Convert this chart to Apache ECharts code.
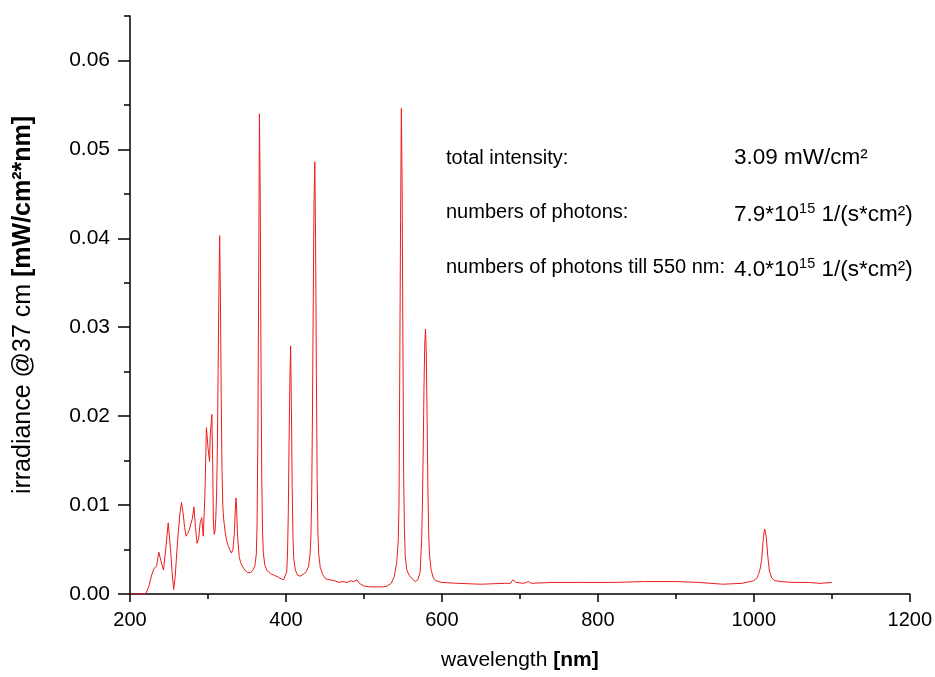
<!DOCTYPE html>
<html>
<head>
<meta charset="utf-8">
<script src="https://cdn.jsdelivr.net/npm/echarts@6/dist/echarts.min.js"></script>
<style>
html,body{margin:0;padding:0;background:#fff;}
#c{width:935px;height:677px;}
</style>
</head>
<body>
<div id="c"></div>
<script>
// wavelength [nm]
const wavelengths = [
200,210,220,224,228,231,234,237,240,243,246,249,252,254,256,258,261,264,266,268,270,272,274,276,278,280,282,284,286,288,290,292,294,296,298,300,302,303,305,306,307,308,309,310,311,312,313,314,315,316,317,318,319,320,322,324,326,328,330,332,334,335,336,337,338,340,342,345,348,351,354,357,360,362,363,364,365,366,367,368,369,370,371,373,376,380,385,390,394,397,399,401,402,403,404,405,406,407,408,409,410,412,415,418,422,426,429,431,432,433,434,435,436,437,438,439,440,441,442,444,447,451,456,462,468,473,478,483,487,491,494,500,508,516,524,530,535,539,542,544,545,546,547,548,549,550,551,552,553,555,558,562,566,569,572,574,575,576,577,578,579,580,581,582,583,584,586,589,592,600,620,650,680,688,691,693,695,705,711,715,740,780,820,860,900,930,960,985,1000,1004,1006,1008,1010,1012,1013,1014,1015,1016,1018,1020,1023,1027,1035,1050,1070,1085,1100
];
// irradiance @37 cm [mW/cm²*nm]
const irradiance = [
0,0,0,0.0008,0.0022,0.0029,0.0031,0.0047,0.0036,0.0027,0.0052,0.0080,0.0050,0.0025,0.0005,0.0020,0.0060,0.0090,0.0103,0.0092,0.0075,0.0065,0.0068,0.0072,0.0070,0.0085,0.0098,0.0075,0.0057,0.0062,0.0080,0.0086,0.0065,0.0110,0.0187,0.0165,0.0149,0.0180,0.0202,0.0150,0.0080,0.0067,0.0070,0.0085,0.0110,0.0160,0.0250,0.0340,0.0403,0.0330,0.0220,0.0140,0.0100,0.0085,0.0070,0.0060,0.0054,0.0050,0.0046,0.0050,0.0070,0.0095,0.0108,0.0090,0.0065,0.0042,0.0035,0.0030,0.0026,0.0024,0.0024,0.0026,0.0031,0.0045,0.0080,0.0180,0.0350,0.0540,0.0450,0.0260,0.0130,0.0070,0.0046,0.0032,0.0026,0.0023,0.0021,0.0019,0.0017,0.0016,0.0016,0.0025,0.0045,0.0090,0.0170,0.0240,0.0279,0.0210,0.0120,0.0065,0.0040,0.0027,0.0021,0.0020,0.0022,0.0025,0.0031,0.0045,0.0065,0.0110,0.0200,0.0330,0.0440,0.0486,0.0400,0.0250,0.0130,0.0070,0.0045,0.0030,0.0022,0.0017,0.0016,0.0015,0.0013,0.0014,0.0013,0.0015,0.0014,0.0016,0.0012,0.0009,0.0008,0.0008,0.0008,0.0009,0.0012,0.0020,0.0035,0.0060,0.0100,0.0260,0.0420,0.0546,0.0460,0.0280,0.0130,0.0070,0.0042,0.0027,0.0021,0.0017,0.0014,0.0016,0.0024,0.0060,0.0100,0.0160,0.0230,0.0280,0.0298,0.0270,0.0200,0.0120,0.0070,0.0045,0.0028,0.0018,0.0015,0.0013,0.0012,0.0011,0.0012,0.0012,0.0016,0.0018,0.0013,0.0012,0.0014,0.0012,0.0013,0.0013,0.0013,0.0014,0.0014,0.0013,0.0011,0.0012,0.0015,0.0018,0.0022,0.0028,0.0038,0.0060,0.0069,0.0073,0.0072,0.0064,0.0042,0.0026,0.0018,0.0015,0.0014,0.0013,0.0013,0.0012,0.0013
];
const xTicks = [200, 400, 600, 800, 1000, 1200];
const yMajorTicks = [0, 0.01, 0.02, 0.03, 0.04, 0.05, 0.06];
const infoLabels = ['total intensity:', 'numbers of photons:', 'numbers of photons till 550 nm:'];
const infoValues = [
  '{t|3.09 mW/cm²}',
  '{t|7.9*10}{s|15}{t| 1/(s*cm²)}',
  '{t|4.0*10}{s|15}{t| 1/(s*cm²)}'
];

const FONT = '"Liberation Sans", Arial, sans-serif';
const chart = echarts.init(document.getElementById('c'), null, {renderer: 'canvas'});

const points = wavelengths.map((w, i) => [w, irradiance[i]]);
const rowY = [157, 211, 266];
const graphics = [];
infoLabels.forEach((t, i) => {
  graphics.push({type: 'text', left: 446, top: rowY[i] - 9, style: {text: t, fill: '#000', font: '20px ' + FONT}});
});
infoValues.forEach((t, i) => {
  graphics.push({type: 'text', left: 734, top: rowY[i] - 11, style: {
    text: t,
    rich: {
      t: {fontSize: 22.5, fontFamily: FONT, fill: '#000', color: '#000', lineHeight: 26, verticalAlign: 'bottom'},
      s: {fontSize: 14.5, fontFamily: FONT, fill: '#000', color: '#000', lineHeight: 26, verticalAlign: 'top', padding: [1, 0, 0, 0]}
    }
  }});
});

chart.setOption({
  animation: false,
  backgroundColor: '#fff',
  grid: {left: 130, right: 25, top: 16, bottom: 83, containLabel: false},
  xAxis: {
    type: 'value', min: xTicks[0], max: xTicks[xTicks.length - 1], interval: 200,
    axisLine: {show: true, onZero: false, lineStyle: {color: '#000', width: 1.5}},
    axisTick: {show: true, length: 8, inside: false, lineStyle: {color: '#000', width: 1.5}},
    minorTick: {show: true, splitNumber: 2, length: 5, lineStyle: {color: '#000', width: 1.5}},
    splitLine: {show: false},
    axisLabel: {color: '#000', fontSize: 20, fontFamily: FONT, margin: 16, formatter: v => String(v)},
    name: '{n|wavelength }{b|[nm]}',
    nameLocation: 'middle', nameGap: 56,
    nameTextStyle: {
      rich: {
        n: {fontSize: 21, fontFamily: FONT, color: '#000'},
        b: {fontSize: 21, fontFamily: FONT, color: '#000', fontWeight: 'bold'}
      }
    }
  },
  yAxis: [
    {
      type: 'value', min: 0, max: 0.065, interval: 0.005,
      axisLine: {show: true, onZero: false, lineStyle: {color: '#000', width: 1.5}},
      axisTick: {show: true, length: 6, lineStyle: {color: '#000', width: 1.5}},
      axisLabel: {show: false},
      splitLine: {show: false}
    },
    {
      type: 'value', min: 0, max: 0.065, interval: 0.01, position: 'left',
      axisLine: {show: false},
      axisTick: {show: true, length: 12, customValues: yMajorTicks, lineStyle: {color: '#000', width: 1.5}},
      axisLabel: {
        color: '#000', fontSize: 21, fontFamily: FONT, margin: 20, customValues: yMajorTicks,
        formatter: v => (Math.abs(v * 100 - Math.round(v * 100)) < 1e-6 ? v.toFixed(2) : '')
      },
      splitLine: {show: false},
      name: '{n|irradiance @37 cm }{b|[mW/cm²*nm]}',
      nameLocation: 'middle', nameGap: 94, nameRotate: 90,
      nameTextStyle: {
        rich: {
          n: {fontSize: 25, fontFamily: FONT, color: '#000'},
          b: {fontSize: 25, fontFamily: FONT, color: '#000', fontWeight: 'bold'}
        }
      }
    }
  ],
  series: [{
    type: 'line',
    yAxisIndex: 0,
    data: points,
    showSymbol: false,
    symbol: 'none',
    lineStyle: {color: '#ee1c1c', width: 1},
    z: 1
  }],
  graphic: graphics
});
</script>
</body>
</html>
